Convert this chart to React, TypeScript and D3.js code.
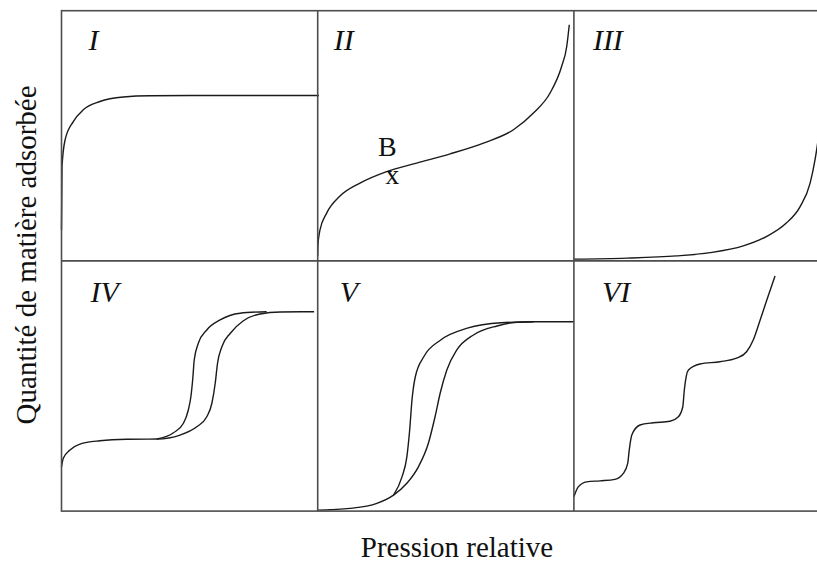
import React from "react";
import * as d3 from "d3";

// Grid of the six IUPAC adsorption isotherm types.
// Each curve is given in panel-normalised units: x = relative pressure (0..1),
// y = amount adsorbed (0..1 of panel height).

const panelLabels = ["I", "II", "III", "IV", "V", "VI"];

const typeI: [number, number][] = [
  [0, 0.124], [0.002, 0.377], [0.014, 0.484], [0.046, 0.557], [0.085, 0.604],
  [0.15, 0.637], [0.241, 0.655], [0.346, 0.66], [0.6, 0.661], [1.005, 0.661],
];

const typeII: [number, number][] = [
  [0, 0.02], [0.001, 0.064], [0.009, 0.124], [0.035, 0.191], [0.087, 0.259],
  [0.165, 0.311], [0.269, 0.357], [0.386, 0.391], [0.517, 0.428], [0.647, 0.471],
  [0.764, 0.524], [0.842, 0.591], [0.907, 0.671], [0.952, 0.777], [0.972, 0.857],
  [0.982, 0.944],
];

const typeIII: [number, number][] = [
  [0, 0.007], [0.206, 0.011], [0.401, 0.02], [0.531, 0.033], [0.661, 0.06],
  [0.751, 0.097], [0.829, 0.151], [0.883, 0.217], [0.922, 0.311], [0.941, 0.404],
  [0.955, 0.5], [0.968, 0.65], [0.978, 0.8],
];

const typeIVAds: [number, number][] = [
  [0, 0.177], [0.007, 0.211], [0.033, 0.244], [0.072, 0.268], [0.15, 0.281],
  [0.255, 0.287], [0.372, 0.288], [0.463, 0.304], [0.528, 0.337], [0.567, 0.377],
  [0.587, 0.431], [0.6, 0.511], [0.609, 0.591], [0.626, 0.657], [0.659, 0.711],
  [0.71, 0.761], [0.775, 0.788], [0.854, 0.796], [0.986, 0.797],
];

const typeIVDes: [number, number][] = [
  [0.372, 0.288], [0.437, 0.313], [0.476, 0.351], [0.495, 0.404], [0.505, 0.457],
  [0.513, 0.537], [0.518, 0.604], [0.534, 0.671], [0.567, 0.724], [0.619, 0.764],
  [0.697, 0.791], [0.801, 0.797],
];

const typeVAds: [number, number][] = [
  [0, 0.004], [0.126, 0.011], [0.231, 0.031], [0.296, 0.064], [0.348, 0.111],
  [0.393, 0.177], [0.432, 0.271], [0.458, 0.377], [0.478, 0.471], [0.504, 0.564],
  [0.543, 0.644], [0.608, 0.704], [0.7, 0.74], [0.79, 0.756], [0.843, 0.757],
  [1.0, 0.757],
];

const typeVDes: [number, number][] = [
  [0.296, 0.064], [0.329, 0.137], [0.348, 0.217], [0.359, 0.324], [0.368, 0.444],
  [0.381, 0.537], [0.414, 0.617], [0.48, 0.684], [0.584, 0.731], [0.716, 0.753],
  [0.843, 0.757],
];

const typeVI: [number, number][] = [
  [0, 0.057], [0.017, 0.097], [0.05, 0.117], [0.102, 0.121], [0.16, 0.127],
  [0.193, 0.151], [0.21, 0.191], [0.216, 0.244], [0.226, 0.304], [0.258, 0.344],
  [0.31, 0.353], [0.375, 0.359], [0.408, 0.377], [0.425, 0.417], [0.431, 0.484],
  [0.447, 0.564], [0.492, 0.588], [0.57, 0.597], [0.635, 0.611], [0.674, 0.637],
  [0.7, 0.684], [0.727, 0.764], [0.753, 0.844], [0.785, 0.94],
];

const panelCurves: [number, number][][][] = [
  [typeI],
  [typeII],
  [typeIII],
  [typeIVAds, typeIVDes],
  [typeVAds, typeVDes],
  [typeVI],
];

// Point B on the type II isotherm (start of multilayer adsorption)
const pointB: [number, number] = [0.287, 0.33];

const xTitle = "Pression relative";
const yTitle = "Quantité de matière adsorbée";

const W = 817;
const H = 562;
const left = 61.5;
const top = 10.7;
const colW = 256.2;
const rowH = 250.2;
const nCols = 3;
const nRows = 2;

const labelOffsets: [number, number][] = [
  [27, 39], [16, 39], [19, 39],
  [29, 41], [22, 41], [28, 41],
];

const serif = "'Liberation Serif', 'Times New Roman', serif";

export default function App() {
  const right = left + colW * nCols;
  const bottom = top + rowH * nRows;

  const panels = panelLabels.map((label, i) => {
    const col = i % nCols;
    const row = Math.floor(i / nCols);
    const x0 = left + col * colW;
    const y0 = top + row * rowH;
    const x = d3.scaleLinear().domain([0, 1]).range([x0, x0 + colW]);
    const y = d3.scaleLinear().domain([0, 1]).range([y0 + rowH, y0]);
    const line = d3
      .line<[number, number]>()
      .x((d) => x(d[0]))
      .y((d) => y(d[1]))
      .curve(d3.curveMonotoneX);
    return { label, x0, y0, x, y, line, curves: panelCurves[i], off: labelOffsets[i] };
  });

  const bx = panels[1].x(pointB[0]);
  const by = panels[1].y(pointB[1]);

  return (
    <svg
      width={W}
      height={H}
      style={{ position: "absolute", left: 0, top: 0, background: "#fff" }}
      fontFamily={serif}
    >
      {/* curves */}
      {panels.map((p) =>
        p.curves.map((c, j) => (
          <path
            key={p.label + j}
            d={p.line(c) ?? ""}
            fill="none"
            stroke="#1a1a1a"
            strokeWidth={1.4}
          />
        ))
      )}

      {/* panel grid */}
      <g stroke="#4d4d4d" strokeWidth={1.6} fill="none">
        <rect x={left} y={top} width={right - left} height={bottom - top} />
        {d3.range(1, nCols).map((c) => (
          <line key={"c" + c} x1={left + c * colW} x2={left + c * colW} y1={top} y2={bottom} />
        ))}
        {d3.range(1, nRows).map((r) => (
          <line key={"r" + r} x1={left} x2={right} y1={top + r * rowH} y2={top + r * rowH} />
        ))}
      </g>

      {/* panel type labels */}
      {panels.map((p) => (
        <text
          key={"l" + p.label}
          x={p.x0 + p.off[0]}
          y={p.y0 + p.off[1]}
          fontSize={30}
          fontStyle="italic"
          fill="#111"
        >
          {p.label}
        </text>
      ))}

      {/* point B */}
      <text x={bx - 4} y={by - 22} fontSize={28} textAnchor="middle" fill="#111">
        B
      </text>
      <text x={bx + 1} y={by + 5.5} fontSize={28} textAnchor="middle" fill="#111">
        x
      </text>

      {/* axis titles */}
      <text x={457} y={557} fontSize={29} textAnchor="middle" fill="#111">
        {xTitle}
      </text>
      <text
        transform={`translate(36, ${(top + bottom) / 2 - 6}) rotate(-90)`}
        fontSize={29}
        textAnchor="middle"
        fill="#111"
      >
        {yTitle}
      </text>
    </svg>
  );
}
